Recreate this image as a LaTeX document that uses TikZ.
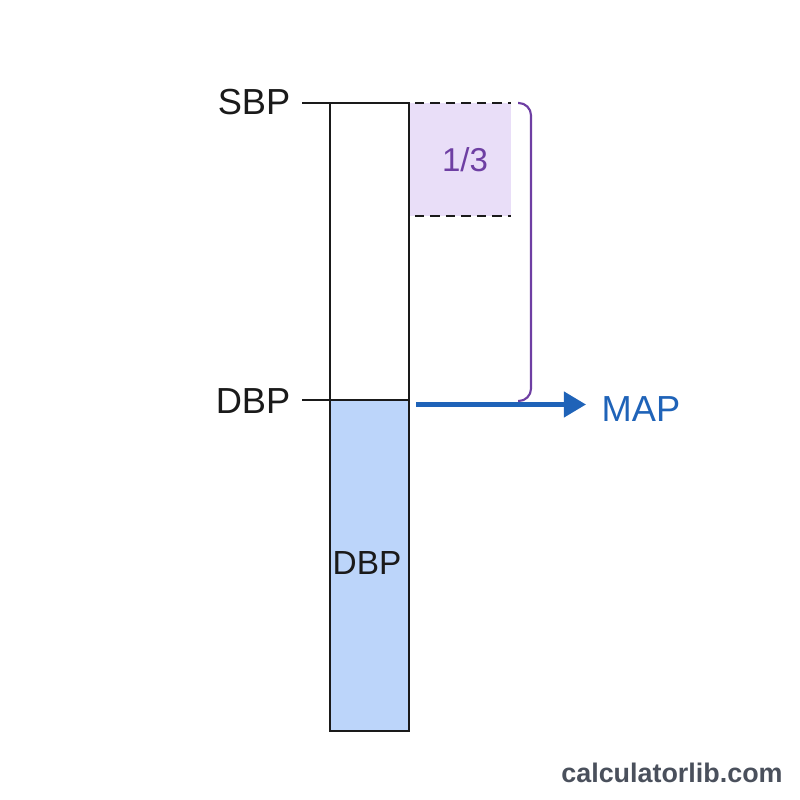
\documentclass[tikz,border=0pt]{standalone}
\usepackage{fontspec}
\setmainfont{Liberation Sans}
\usepackage{xcolor}
\usepackage{tikz}
\usetikzlibrary{arrows.meta}
\definecolor{ink}{HTML}{1A1A1A}
\definecolor{lav}{HTML}{E9DEF8}
\definecolor{purp}{HTML}{6E3FA3}
\definecolor{dbpfill}{HTML}{BCD5FA}
\definecolor{mapblue}{HTML}{1F63B8}
\definecolor{sitegray}{HTML}{4A505C}
\tikzset{
  barline/.style={draw=ink, line width=0.45pt},
  tickline/.style={draw=ink, line width=0.45pt},
  thirdline/.style={draw=ink, line width=0.5pt, dash pattern=on 2.6pt off 1.8pt},
  bracket/.style={draw=purp, line width=0.6pt, rounded corners=3.5pt},
  maparrow/.style={draw=mapblue, line width=1.35pt, -{Triangle[length=6.3pt, width=7.1pt]}},
  lab/.style={text=ink, inner sep=0pt, font=\fontsize{10.3}{12}\selectfont},
}

\begin{document}
\begin{tikzpicture}[x=0.01cm, y=-0.01cm]
  \useasboundingbox (0,0) rectangle (800,800);

  % the bar
  \coordinate (T) at (330,103);
  \coordinate (TR) at (409,103);
  \coordinate (D) at (330,400);
  \coordinate (DR) at (409,400);
  \coordinate (B) at (409,731);

  \fill[dbpfill] (D) rectangle (B);
  \fill[lav] (TR) rectangle (511,216);
  \draw[barline] (T) rectangle (B);
  \draw[barline] (D)--(DR);

  % ticks and pressures
  \node[lab, anchor=east] (sbp) at (291,102) {SBP};
  \node[lab, anchor=east] (dbp) at (291,401) {DBP};
  \coordinate (s0) at (302,103);
  \coordinate (d0) at (302,400);
  \draw[tickline] (s0) -- (T);
  \draw[tickline] (d0) -- (D);

  % one third of the pulse pressure
  \draw[thirdline] (415,103)--(511,103);
  \draw[thirdline] (415,216)--(511,216);
  \node[text=purp, font=\fontsize{9.4}{11}\selectfont] (third) at (465,160) {1/3};
  \draw[bracket] (518,103)--(531,103)--(531,401)--(518,401);

  % mean arterial pressure
  \node[text=mapblue, inner sep=0pt, font=\fontsize{10.3}{12}\selectfont, anchor=west] (map) at (601,409) {MAP};
  \coordinate (a0) at (416,404.5);
  \coordinate (a1) at (586,404.5);
  \draw[maparrow] (a0) -- (a1);

  \node[text=ink, font=\fontsize{9.5}{11}\selectfont] (dbpin) at (367,563) {DBP};

  \node[text=sitegray, font=\bfseries\fontsize{7.65}{9}\selectfont] (site) at (672,773) {calculatorlib.com};
\end{tikzpicture}
\end{document}
